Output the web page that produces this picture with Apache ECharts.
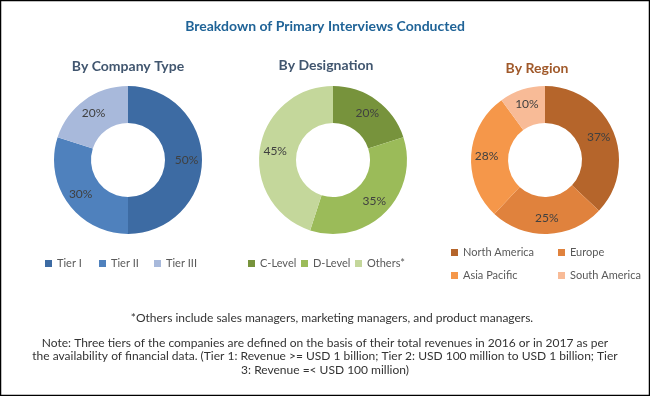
<!DOCTYPE html>
<html>
<head>
<meta charset="utf-8">
<script src="https://cdn.jsdelivr.net/npm/echarts@6/dist/echarts.min.js"></script>
<style>
  html, body { margin: 0; padding: 0; background: #fff; }
  #root { width: 650px; height: 396px; }
</style>
</head>
<body>
<div id="root"></div>
<script>
// data
const companyTypes = ['Tier I', 'Tier II', 'Tier III']
const companyValues = [50, 30, 20]
const designations = ['C-Level', 'D-Level', 'Others*']
const designationValues = [20, 35, 45]
const regions = ['North America', 'Europe', 'Asia Pacific', 'South America']
const regionValues = [37, 25, 28, 10]

const companyColors = ['#3d6ba3', '#4f81bd', '#a8b9db']
const designationColors = ['#77933c', '#9bbb59', '#c4d79b']
const regionColors = ['#b5652b', '#e0823d', '#f5974a', '#f8bb97']

const toData = (names, values, colors) => names.map((name, i) => ({
  name, value: values[i], itemStyle: { color: colors[i] }
}))

const chart = echarts.init(document.getElementById('root'))

const labelFont = { show: true, position: 'inside', formatter: '{c}%', color: '#404040', fontSize: 12, fontFamily: 'Lato' }
const legendText = { color: '#595959', fontSize: 11, fontFamily: 'Lato' }
const noteFont = '12px Lato'

const pie = (name, names, values, colors, cx) => ({
  name,
  type: 'pie',
  radius: [37, 74],
  center: [cx, 160],
  startAngle: 90,
  clockwise: true,
  silent: true,
  label: labelFont,
  labelLine: { show: false },
  itemStyle: { borderWidth: 0 },
  data: toData(names, values, colors)
})

// one legend per item so the markers sit where the reference has them
const legendAt = (name, left, top) => ({
  data: [name], left, top, padding: 0, icon: 'rect', itemWidth: 7, itemHeight: 7, textStyle: legendText
})

const subTitle = (text, x, top, color) => ({
  text, left: x, top, textAlign: 'center', padding: 0,
  textStyle: { fontFamily: 'Lato', fontWeight: 'bold', fontSize: 14, color }
})

const option = {
  animation: false,
  title: [
    { text: 'Breakdown of Primary Interviews Conducted', left: 'center', top: 19, padding: 0,
      textStyle: { fontFamily: 'Lato', fontWeight: 'bold', fontSize: 14, color: '#1f6397' } },
    subTitle('By Company Type', 128, 59, '#41566f'),
    subTitle('By Designation', 326, 58, '#41566f'),
    subTitle('By Region', 537, 61, '#a0592a')
  ],
  legend: [
    legendAt(companyTypes[0], 45, 258),
    legendAt(companyTypes[1], 99, 258),
    legendAt(companyTypes[2], 154, 258),
    legendAt(designations[0], 248, 258),
    legendAt(designations[1], 301, 258),
    legendAt(designations[2], 355, 258),
    legendAt(regions[0], 451, 247),
    legendAt(regions[1], 558, 247),
    legendAt(regions[2], 451, 270),
    legendAt(regions[3], 558, 270)
  ],
  graphic: [
    { type: 'rect', shape: { x: 0.5, y: 0.5, width: 649, height: 395 }, style: { fill: 'none', stroke: '#000', lineWidth: 1.5 }, silent: true },
    { type: 'text', x: 332, y: 312,
      style: { text: '*Others include sales managers, marketing managers, and product managers.', font: noteFont, fill: '#333', align: 'center', verticalAlign: 'top' } },
    { type: 'text', x: 325, y: 336,
      style: { text: 'Note: Three tiers of the companies are defined on the basis of their total revenues in 2016 or in 2017 as per\nthe availability of financial data. (Tier 1: Revenue >= USD 1 billion; Tier 2: USD 100 million to USD 1 billion; Tier\n3: Revenue =< USD 100 million)',
        font: noteFont, fill: '#333', align: 'center', verticalAlign: 'top', lineHeight: 13.5 } }
  ],
  series: [
    pie('By Company Type', companyTypes, companyValues, companyColors, 128),
    pie('By Designation', designations, designationValues, designationColors, 333),
    pie('By Region', regions, regionValues, regionColors, 545)
  ]
}

chart.setOption(option)
</script>
</body>
</html>
